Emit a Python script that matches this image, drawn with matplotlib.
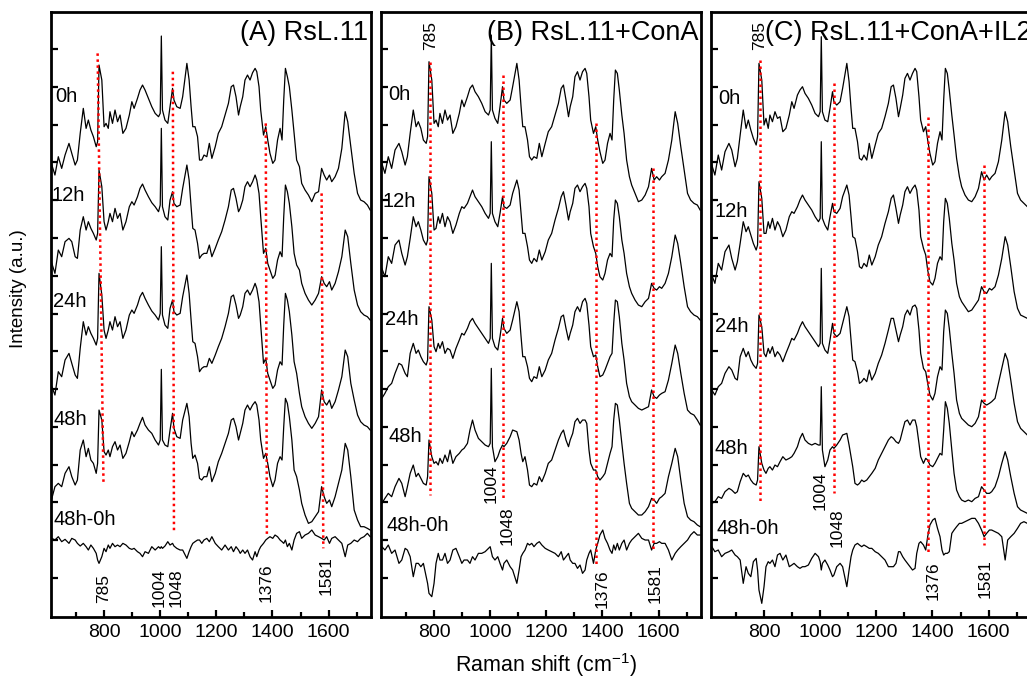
import matplotlib
matplotlib.use("Agg")
import matplotlib.pyplot as plt
from matplotlib.ticker import MultipleLocator
import numpy as np

plt.rcParams['font.family'] = ['Liberation Sans', 'DejaVu Sans']
plt.rcParams['mathtext.default'] = 'regular'

# Raman shift grid (cm-1), shared by all traces
wn = [614, 625, 637, 649, 661, 675, 685, 697, 705, 715,
      726, 736, 744, 753, 762, 772, 777, 782, 792, 800,
      807, 815, 821, 830, 839, 848, 857, 867, 878, 890,
      899, 907, 919, 928, 937, 946, 958, 970, 982, 994,
      1000, 1004, 1008, 1017, 1027, 1035, 1044, 1049, 1059, 1071,
      1080, 1095, 1103, 1110, 1116, 1124, 1133, 1140, 1148, 1156,
      1166, 1175, 1184, 1196, 1207, 1219, 1231, 1243, 1253, 1261,
      1270, 1279, 1285, 1294, 1302, 1311, 1320, 1329, 1338, 1344,
      1352, 1358, 1368, 1376, 1383, 1391, 1401, 1409, 1418, 1427,
      1434, 1440, 1446, 1453, 1460, 1469, 1477, 1486, 1496, 1504,
      1516, 1528, 1540, 1552, 1564, 1575, 1584, 1593, 1603, 1611,
      1623, 1635, 1647, 1659, 1668, 1679, 1691, 1703, 1714, 1726,
      1738, 1748]

# (A) RsL.11, stacked intensities (a.u., offset included)
a_0h = [1355, 1325, 1380, 1345, 1385, 1420, 1390, 1355, 1370, 1450,
        1525, 1465, 1490, 1460, 1440, 1410, 1425, 1655, 1610, 1470,
        1480, 1465, 1515, 1480, 1520, 1485, 1505, 1450, 1465, 1505,
        1545, 1525, 1555, 1580, 1595, 1580, 1555, 1530, 1510, 1500,
        1510, 1742, 1520, 1490, 1480, 1530, 1585, 1550, 1530, 1525,
        1560, 1660, 1610, 1530, 1470, 1470, 1440, 1370, 1370, 1385,
        1380, 1420, 1375, 1410, 1450, 1470, 1505, 1540, 1590, 1595,
        1560, 1505, 1530, 1560, 1610, 1625, 1610, 1632, 1645, 1635,
        1590, 1520, 1445, 1470, 1430, 1390, 1360, 1370, 1430, 1465,
        1430, 1550, 1645, 1620, 1590, 1520, 1450, 1370, 1350, 1300,
        1280, 1265, 1245, 1270, 1275, 1345, 1325, 1310, 1325, 1305,
        1320, 1345, 1405, 1515, 1485, 1410, 1330, 1270, 1250, 1245,
        1235, 1220]
a_12h = [1060, 1030, 1100, 1080, 1125, 1135, 1125, 1080, 1075, 1160,
         1200, 1160, 1185, 1165, 1150, 1130, 1150, 1340, 1290, 1185,
         1160, 1185, 1210, 1185, 1225, 1195, 1210, 1160, 1185, 1230,
         1245, 1235, 1260, 1285, 1298, 1280, 1260, 1242, 1230, 1215,
         1235, 1465, 1230, 1200, 1190, 1250, 1275, 1240, 1230, 1235,
         1285, 1355, 1310, 1230, 1165, 1160, 1120, 1075, 1085, 1090,
         1090, 1115, 1080, 1105, 1130, 1155, 1190, 1230, 1280, 1285,
         1255, 1215, 1225, 1250, 1290, 1305, 1290, 1305, 1325, 1310,
         1270, 1200, 1090, 1105, 1060, 1040, 1015, 1025, 1070, 1095,
         1080, 1200, 1295, 1275, 1240, 1170, 1090, 1055, 1040, 1000,
         970, 950, 935, 950, 970, 1020, 1000, 990, 1005, 980,
         1000, 1035, 1080, 1160, 1140, 1060, 980, 935, 915, 905,
         900, 890]
a_24h = [690, 665, 735, 720, 770, 790, 760, 725, 715, 805,
         885, 845, 870, 850, 835, 815, 835, 1030, 965, 860,
         835, 860, 885, 860, 900, 870, 885, 835, 860, 905,
         920, 910, 935, 960, 973, 955, 935, 917, 905, 890,
         910, 1110, 905, 875, 865, 925, 950, 915, 905, 910,
         960, 1025, 970, 890, 825, 820, 780, 735, 745, 750,
         750, 775, 760, 785, 810, 835, 870, 910, 960, 965,
         935, 895, 905, 930, 970, 980, 965, 980, 1000, 985,
         945, 875, 760, 775, 730, 710, 685, 695, 740, 765,
         755, 875, 970, 950, 915, 845, 765, 730, 670, 630,
         600, 580, 565, 580, 600, 680, 645, 635, 650, 625,
         645, 680, 720, 800, 780, 700, 650, 605, 585, 575,
         570, 560]
a_48h = [355, 390, 400, 390, 430, 450, 420, 395, 410, 500,
         530, 480, 505, 470, 460, 430, 460, 620, 590, 495,
         485, 500, 480, 510, 525, 500, 515, 475, 490, 525,
         555, 540, 560, 580, 598, 575, 560, 550, 530, 515,
         530, 742, 530, 515, 510, 560, 610, 565, 540, 535,
         590, 640, 600, 520, 475, 485, 460, 415, 410, 420,
         420, 450, 405, 430, 465, 490, 520, 550, 590, 595,
         570, 530, 550, 580, 620, 635, 620, 635, 645, 635,
         590, 530, 475, 490, 460, 420, 390, 410, 460, 480,
         470, 570, 655, 640, 600, 530, 440, 420, 380, 340,
         305, 280, 285, 300, 315, 390, 360, 340, 350, 330,
         360, 400, 440, 520, 500, 420, 320, 290, 270, 270,
         265, 260]
a_diff = [235, 230, 240, 225, 232, 220, 235, 230, 220, 212,
          220, 210, 200, 215, 205, 190, 170, 160, 180, 205,
          195, 215, 205, 220, 210, 215, 210, 220, 215, 205,
          202, 205, 195, 190, 180, 195, 190, 210, 200, 210,
          205, 210, 205, 212, 225, 215, 220, 212, 205, 200,
          200, 175, 195, 210, 220, 225, 230, 230, 220, 230,
          235, 225, 240, 220, 210, 200, 215, 200, 210, 195,
          210, 200, 190, 200, 190, 200, 180, 170, 195, 180,
          200, 210, 220, 230, 235, 240, 235, 245, 240, 230,
          225, 220, 230, 210, 220, 200, 230, 250, 255, 235,
          245, 250, 260, 245, 240, 235, 230, 240, 220, 235,
          240, 230, 220, 180, 215, 220, 230, 225, 235, 240,
          250, 240]

# (B) RsL.11+ConA
b_0h = [1360, 1330, 1380, 1345, 1400, 1420, 1395, 1355, 1380, 1450,
        1520, 1470, 1485, 1465, 1430, 1420, 1440, 1665, 1610, 1480,
        1490, 1470, 1510, 1480, 1520, 1490, 1505, 1450, 1470, 1510,
        1550, 1530, 1560, 1585, 1595, 1575, 1560, 1540, 1515, 1505,
        1520, 1745, 1520, 1495, 1480, 1530, 1590, 1550, 1540, 1550,
        1590, 1660, 1610, 1530, 1470, 1470, 1430, 1380, 1370, 1380,
        1375, 1420, 1380, 1420, 1455, 1470, 1505, 1540, 1585, 1595,
        1550, 1500, 1530, 1560, 1620, 1635, 1610, 1635, 1645, 1630,
        1560, 1490, 1450, 1470, 1430, 1395, 1360, 1370, 1420, 1450,
        1430, 1550, 1640, 1630, 1580, 1505, 1450, 1370, 1320, 1295,
        1270, 1245, 1250, 1265, 1290, 1345, 1310, 1320, 1310, 1320,
        1330, 1370, 1430, 1515, 1480, 1410, 1340, 1270, 1250, 1240,
        1235, 1220]
b_12h = [1045, 1020, 1080, 1060, 1115, 1130, 1090, 1055, 1080, 1135,
         1200, 1170, 1185, 1160, 1130, 1115, 1130, 1320, 1270, 1160,
         1165, 1200, 1180, 1210, 1170, 1200, 1185, 1150, 1175, 1210,
         1230, 1225, 1240, 1260, 1280, 1260, 1245, 1230, 1210, 1195,
         1210, 1425, 1210, 1185, 1170, 1210, 1260, 1230, 1225, 1235,
         1270, 1310, 1280, 1210, 1150, 1150, 1110, 1070, 1060, 1075,
         1065, 1100, 1070, 1095, 1130, 1150, 1190, 1225, 1260, 1275,
         1235, 1190, 1215, 1240, 1285, 1295, 1275, 1290, 1300, 1285,
         1230, 1150, 1110, 1090, 1050, 1020, 1010, 1030, 1070, 1090,
         1080, 1190, 1250, 1240, 1200, 1130, 1090, 1030, 990, 970,
         950, 935, 930, 945, 955, 1000, 985, 980, 990, 985,
         1000, 1030, 1080, 1145, 1120, 1060, 990, 930, 915, 905,
         900, 890]
b_24h = [655, 670, 690, 700, 730, 760, 755, 730, 720, 790,
         820, 790, 800, 780, 765, 755, 770, 930, 890, 810,
         795, 820, 805, 825, 790, 805, 800, 775, 805, 830,
         850, 845, 865, 885, 895, 880, 865, 850, 835, 820,
         835, 1060, 835, 810, 800, 840, 895, 865, 850, 860,
         890, 945, 915, 840, 780, 780, 750, 715, 705, 720,
         715, 750, 720, 740, 770, 790, 830, 865, 900, 905,
         865, 830, 850, 875, 915, 930, 915, 945, 955, 940,
         875, 810, 780, 785, 750, 720, 725, 740, 760, 780,
         790, 880, 950, 945, 900, 820, 770, 700, 660, 645,
         635, 625, 620, 625, 630, 680, 660, 655, 665, 670,
         675, 710, 760, 815, 790, 730, 670, 620, 610, 605,
         590, 575]
b_48h = [340, 355, 370, 360, 390, 415, 400, 360, 390, 430,
         455, 420, 430, 415, 400, 395, 420, 530, 480, 460,
         465, 455, 475, 460, 485, 465, 500, 460, 480, 490,
         500, 505, 520, 560, 590, 560, 535, 525, 515, 510,
         520, 745, 510, 465, 480, 500, 515, 510, 520, 540,
         560, 555, 530, 490, 465, 480, 440, 395, 390, 400,
         395, 420, 405, 430, 460, 470, 500, 530, 550, 560,
         530, 510, 530, 550, 585, 595, 580, 590, 590, 580,
         500, 460, 440, 440, 420, 410, 420, 430, 460, 490,
         510, 590, 640, 635, 590, 520, 460, 400, 340, 325,
         315, 305, 305, 315, 330, 355, 350, 340, 355, 360,
         370, 420, 460, 505, 480, 410, 340, 300, 290, 285,
         275, 270]
b_diff = [210, 200, 215, 190, 200, 160, 170, 205, 200, 180,
          120, 160, 160, 150, 160, 120, 100, 70, 60, 100,
          160, 190, 170, 170, 190, 160, 170, 200, 205, 180,
          160, 170, 170, 160, 180, 170, 190, 190, 195, 205,
          210, 195, 180, 170, 180, 160, 140, 160, 170, 150,
          140, 100, 140, 180, 190, 200, 220, 215, 220, 210,
          220, 225, 215, 205, 200, 195, 190, 180, 195, 170,
          180, 190, 170, 160, 160, 145, 155, 130, 140, 170,
          190, 200, 160, 200, 220, 245, 260, 235, 220, 200,
          190, 215, 200, 220, 200, 220, 230, 200, 220, 230,
          240, 250, 235, 230, 230, 200, 220, 220, 225, 220,
          220, 200, 170, 190, 200, 210, 220, 230, 245, 255,
          245, 245]

# (C) RsL.11+ConA+IL2
c_0h = [1355, 1325, 1385, 1340, 1395, 1420, 1400, 1350, 1375, 1445,
        1520, 1465, 1490, 1460, 1435, 1415, 1440, 1660, 1610, 1475,
        1495, 1465, 1505, 1485, 1515, 1495, 1500, 1455, 1465, 1505,
        1545, 1525, 1565, 1580, 1590, 1570, 1555, 1535, 1510, 1500,
        1515, 1740, 1515, 1490, 1485, 1525, 1575, 1545, 1535, 1545,
        1585, 1660, 1605, 1525, 1465, 1465, 1425, 1375, 1370, 1385,
        1370, 1420, 1375, 1415, 1450, 1465, 1500, 1540, 1590, 1595,
        1555, 1500, 1525, 1565, 1615, 1630, 1610, 1630, 1645, 1635,
        1560, 1490, 1455, 1470, 1430, 1390, 1355, 1365, 1420, 1455,
        1430, 1550, 1645, 1630, 1580, 1505, 1445, 1375, 1320, 1290,
        1265, 1250, 1245, 1260, 1285, 1335, 1310, 1325, 1310, 1320,
        1330, 1365, 1430, 1515, 1485, 1410, 1340, 1270, 1250, 1240,
        1230, 1225]
c_12h = [1025, 1000, 1060, 1040, 1095, 1115, 1075, 1040, 1065, 1120,
         1185, 1155, 1170, 1145, 1120, 1100, 1115, 1305, 1255, 1150,
         1150, 1185, 1165, 1195, 1160, 1185, 1170, 1140, 1160, 1200,
         1215, 1210, 1230, 1250, 1265, 1250, 1235, 1220, 1200, 1185,
         1195, 1425, 1195, 1175, 1160, 1200, 1240, 1215, 1210, 1225,
         1260, 1295, 1265, 1200, 1140, 1135, 1095, 1050, 1045, 1060,
         1050, 1085, 1055, 1080, 1115, 1140, 1180, 1215, 1255, 1265,
         1225, 1180, 1205, 1235, 1275, 1290, 1270, 1285, 1295, 1280,
         1220, 1140, 1105, 1085, 1040, 1005, 995, 1015, 1060, 1080,
         1070, 1185, 1255, 1240, 1195, 1120, 1070, 1000, 960, 945,
         930, 915, 920, 935, 950, 990, 975, 970, 985, 980,
         990, 1025, 1075, 1140, 1115, 1050, 975, 925, 905, 900,
         895, 890]
c_24h = [680, 665, 690, 700, 730, 750, 740, 715, 710, 780,
         805, 780, 795, 770, 755, 745, 760, 905, 870, 790,
         780, 805, 790, 810, 780, 795, 785, 765, 790, 815,
         835, 830, 850, 870, 885, 870, 855, 840, 825, 810,
         820, 1045, 820, 800, 790, 830, 880, 850, 840, 850,
         880, 930, 900, 830, 770, 765, 735, 700, 705, 715,
         705, 740, 710, 730, 760, 785, 820, 860, 895, 895,
         860, 825, 845, 870, 905, 920, 905, 930, 935, 925,
         860, 790, 745, 735, 700, 665, 650, 670, 720, 750,
         740, 855, 920, 910, 865, 790, 730, 650, 610, 595,
         585, 575, 570, 580, 600, 650, 640, 635, 640, 645,
         655, 700, 745, 790, 770, 710, 640, 585, 565, 555,
         545, 535]
c_48h = [340, 345, 360, 355, 375, 385, 380, 370, 375, 405,
         430, 420, 425, 410, 400, 395, 410, 510, 460, 440,
         430, 445, 450, 440, 455, 450, 465, 480, 470, 475,
         480, 490, 510, 535, 550, 530, 520, 515, 520, 515,
         515, 690, 500, 450, 470, 500, 510, 505, 515, 530,
         545, 550, 515, 480, 450, 400, 395, 400, 410, 405,
         410, 420, 430, 445, 470, 490, 510, 530, 540, 535,
         525, 520, 530, 560, 585, 590, 575, 590, 590, 570,
         520, 480, 460, 475, 470, 455, 450, 460, 475, 490,
         485, 560, 645, 625, 580, 500, 430, 380, 360, 350,
         345, 350, 345, 355, 360, 390, 380, 370, 370, 375,
         390, 420, 460, 495, 470, 420, 370, 330, 320, 315,
         310, 305]
c_diff = [210, 195, 200, 180, 190, 195, 200, 185, 180, 170,
          100, 150, 130, 120, 165, 175, 140, 80, 40, 90,
          150, 165, 160, 170, 150, 185, 190, 170, 185, 150,
          155, 160, 150, 145, 150, 150, 155, 175, 190, 180,
          165, 140, 160, 170, 155, 140, 120, 125, 150, 160,
          150, 90, 140, 180, 200, 215, 220, 215, 210, 215,
          210, 205, 205, 195, 190, 180, 170, 150, 150, 150,
          160, 195, 195, 180, 170, 160, 150, 140, 145, 190,
          220, 225, 215, 200, 240, 275, 290, 295, 265, 240,
          200, 185, 190, 190, 195, 250, 260, 270, 280, 280,
          285, 290, 295, 295, 280, 260, 240, 250, 260, 260,
          255, 250, 240, 170, 230, 240, 250, 265, 280, 285,
          280, 280]

time_labels = ['0h', '12h', '24h', '48h', '48h-0h']
titles = ['(A) RsL.11', '(B) RsL.11+ConA', '(C) RsL.11+ConA+IL2']
title_x = [0.992, 0.992, 1.004]

# label anchors (cm-1, a.u.) per panel, same order as time_labels
a_label_pos = [(625, 1560), (614, 1263), (618, 947), (621, 593), (621, 293)]
b_label_pos = [(636, 1568), (618, 1245), (625, 893), (636, 540), (631, 275)]
c_label_pos = [(636, 1555), (625, 1215), (625, 870), (625, 506), (632, 266)]

# red guide lines: x_top, x_bottom, y_top, y_bottom
a_guides = [(777, 798, 1690, 395), (1045, 1049, 1635, 255),
            (1376, 1380, 1480, 240), (1575, 1581, 1270, 205)]
b_guides = [(786, 786, 1665, 365), (1047, 1047, 1625, 350),
            (1376, 1376, 1480, 155), (1581, 1581, 1345, 195)]
c_guides = [(786, 786, 1670, 345), (1048, 1048, 1600, 370),
            (1383, 1383, 1500, 195), (1584, 1584, 1355, 215)]

# band labels: text, x, y(bottom)
a_bands = [('785', 797, 40), ('1004', 996, 30), ('1048', 1057, 30),
           ('1376', 1379, 45), ('1581', 1590, 65)]
b_bands = [('785', 788, 1700), ('1004', 1005, 340), ('1048', 1059, 215),
           ('1376', 1397, 25), ('1581', 1587, 40)]
c_bands = [('785', 784, 1700), ('1004', 999, 320), ('1048', 1059, 210),
           ('1376', 1403, 50), ('1581', 1587, 56)]

panels = [
    ([a_0h, a_12h, a_24h, a_48h, a_diff], a_label_pos, a_guides, a_bands),
    ([b_0h, b_12h, b_24h, b_48h, b_diff], b_label_pos, b_guides, b_bands),
    ([c_0h, c_12h, c_24h, c_48h, c_diff], c_label_pos, c_guides, c_bands),
]

fig = plt.figure(figsize=(10.27, 6.77), dpi=100)
lefts = [0.0494, 0.3707, 0.6920]
ytick_pos = 116 + 113.35 * np.arange(15)

for i, (traces, lpos, guides, bands) in enumerate(panels):
    ax = fig.add_axes([lefts[i], 0.0886, 0.3116, 0.8941])
    for tr in traces:
        ax.plot(wn, tr, color='black', lw=0.9)
    for xt, xb, yt, yb in guides:
        ax.plot([xt, xb], [yt, yb], color='red', lw=1.8,
                linestyle=(0, (1.0, 1.4)))
    for lab, (lx, ly) in zip(time_labels, lpos):
        ax.text(lx, ly, lab, ha='left', va='center', fontsize=14.5)
    for txt, bx, by in bands:
        ax.text(bx, by, txt, rotation=90, ha='center', va='bottom',
                fontsize=12.5)
    ax.text(title_x[i], 0.986, titles[i], transform=ax.transAxes,
            ha='right', va='top', fontsize=19.5)

    ax.set_xlim(610, 1750)
    ax.set_ylim(-1, 1815)
    ax.xaxis.set_major_locator(MultipleLocator(200))
    ax.xaxis.set_minor_locator(MultipleLocator(100))
    ax.set_yticks(ytick_pos)
    ax.set_yticklabels([])
    ax.tick_params(axis='both', which='major', direction='in', length=5,
                   width=1.6, labelsize=14, top=False, right=False)
    ax.tick_params(axis='x', which='minor', direction='in', length=3.5,
                   width=1.6, top=False)
    ax.tick_params(axis='x', pad=5)
    for sp in ax.spines.values():
        sp.set_linewidth(2)

fig.text(0.5317, 0.0078, 'Raman shift (cm$^{-1}$)', ha='center',
         va='baseline', fontsize=15.5)
fig.text(0.0178, 0.5738, 'Intensity (a.u.)', rotation=90, ha='center',
         va='center', fontsize=13.5)

fig.savefig('out.png', dpi=100)
